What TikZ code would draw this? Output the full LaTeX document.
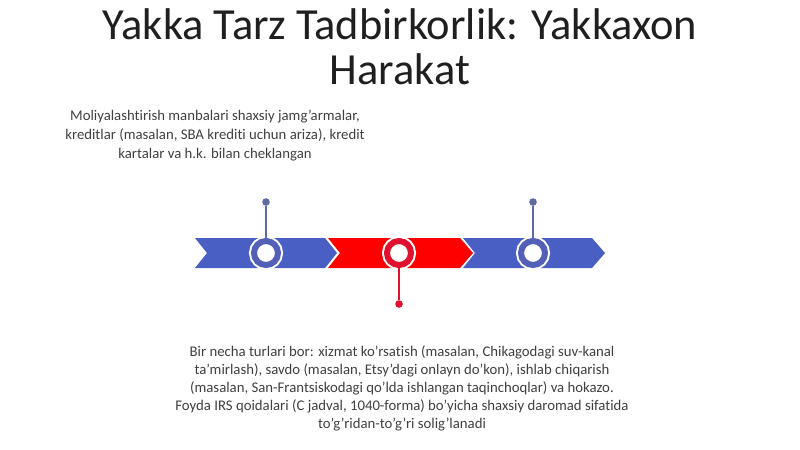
\documentclass[tikz,border=0pt]{standalone}
\usepackage{fontspec}
\setmainfont{Carlito}[Ligatures={NoCommon}]
\usepackage{xcolor}
\usepackage{tikz}
\definecolor{tlblue}{HTML}{4A5FC3}
\definecolor{tlring}{HTML}{5360B8}
\definecolor{tlred}{HTML}{FF0000}
\definecolor{tlcrim}{HTML}{E0102F}
\definecolor{pinblue}{HTML}{5D6BA0}
\definecolor{txt}{HTML}{404040}
\tikzstyle{ring} = [circle, draw, fill=white, line width=0.15cm, minimum size=0.6cm, inner sep=0pt, outer sep=0.075cm, preaction={draw=white, line width=0.25cm}]
\tikzstyle{dotend} = [circle, inner sep=0pt, minimum size=0.19cm]
\tikzstyle{line} = [draw, line width=1.2pt]
\tikzstyle{note} = [text=txt, align=center, font=\fontsize{10.5}{13.5}\selectfont]

\begin{document}
\begin{tikzpicture}[x=0.025cm,y=-0.025cm]
\useasboundingbox (0,0) rectangle (800,449);

\node [text=black!88, align=center, font=\fontsize{31.6}{32}\selectfont] (title) at (400,47) {Yakka Tarz Tadbirkorlik: Yakkaxon\\Harakat};

% chevrons
\fill [tlblue] (195,238) -- (325,238) -- (337,253) -- (325,268) -- (195,268) -- (207,253) -- cycle;
\fill [tlred] (328,238) -- (460,238) -- (473,253) -- (460,268) -- (328,268) -- (340,253) -- cycle;
\fill [tlblue] (463,238) -- (592,238) -- (605,253) -- (592,268) -- (463,268) -- (475,253) -- cycle;

\node [ring, draw=tlring] (c1) at (266,253) {};
\node [ring, draw=tlcrim] (c2) at (399,253) {};
\node [ring, draw=tlring] (c3) at (533,253) {};

\node [dotend, fill=pinblue] (d1) at (266,202) {};
\node [dotend, fill=tlcrim] (d2) at (399,304) {};
\node [dotend, fill=pinblue] (d3) at (533,202) {};
\path [line, pinblue] (d1) -- (c1);
\path [line, tlcrim] (d2) -- (c2);
\path [line, pinblue] (d3) -- (c3);

\node [note] (t1) at (215,136) {Moliyalashtirish manbalari shaxsiy jamg'armalar,\\kreditlar (masalan, SBA krediti uchun ariza), kredit\\kartalar va h.k. bilan cheklangan};
\node [note, font=\fontsize{10.5}{12.8}\selectfont] (t2) at (402,388) {Bir necha turlari bor: xizmat ko'rsatish (masalan, Chikagodagi suv-kanal\\ta'mirlash), savdo (masalan, Etsy'dagi onlayn do'kon), ishlab chiqarish\\(masalan, San-Frantsiskodagi qo'lda ishlangan taqinchoqlar) va hokazo.\\Foyda IRS qoidalari (C jadval, 1040-forma) bo'yicha shaxsiy daromad sifatida\\to'g'ridan-to'g'ri solig'lanadi};
\end{tikzpicture}
\end{document}
